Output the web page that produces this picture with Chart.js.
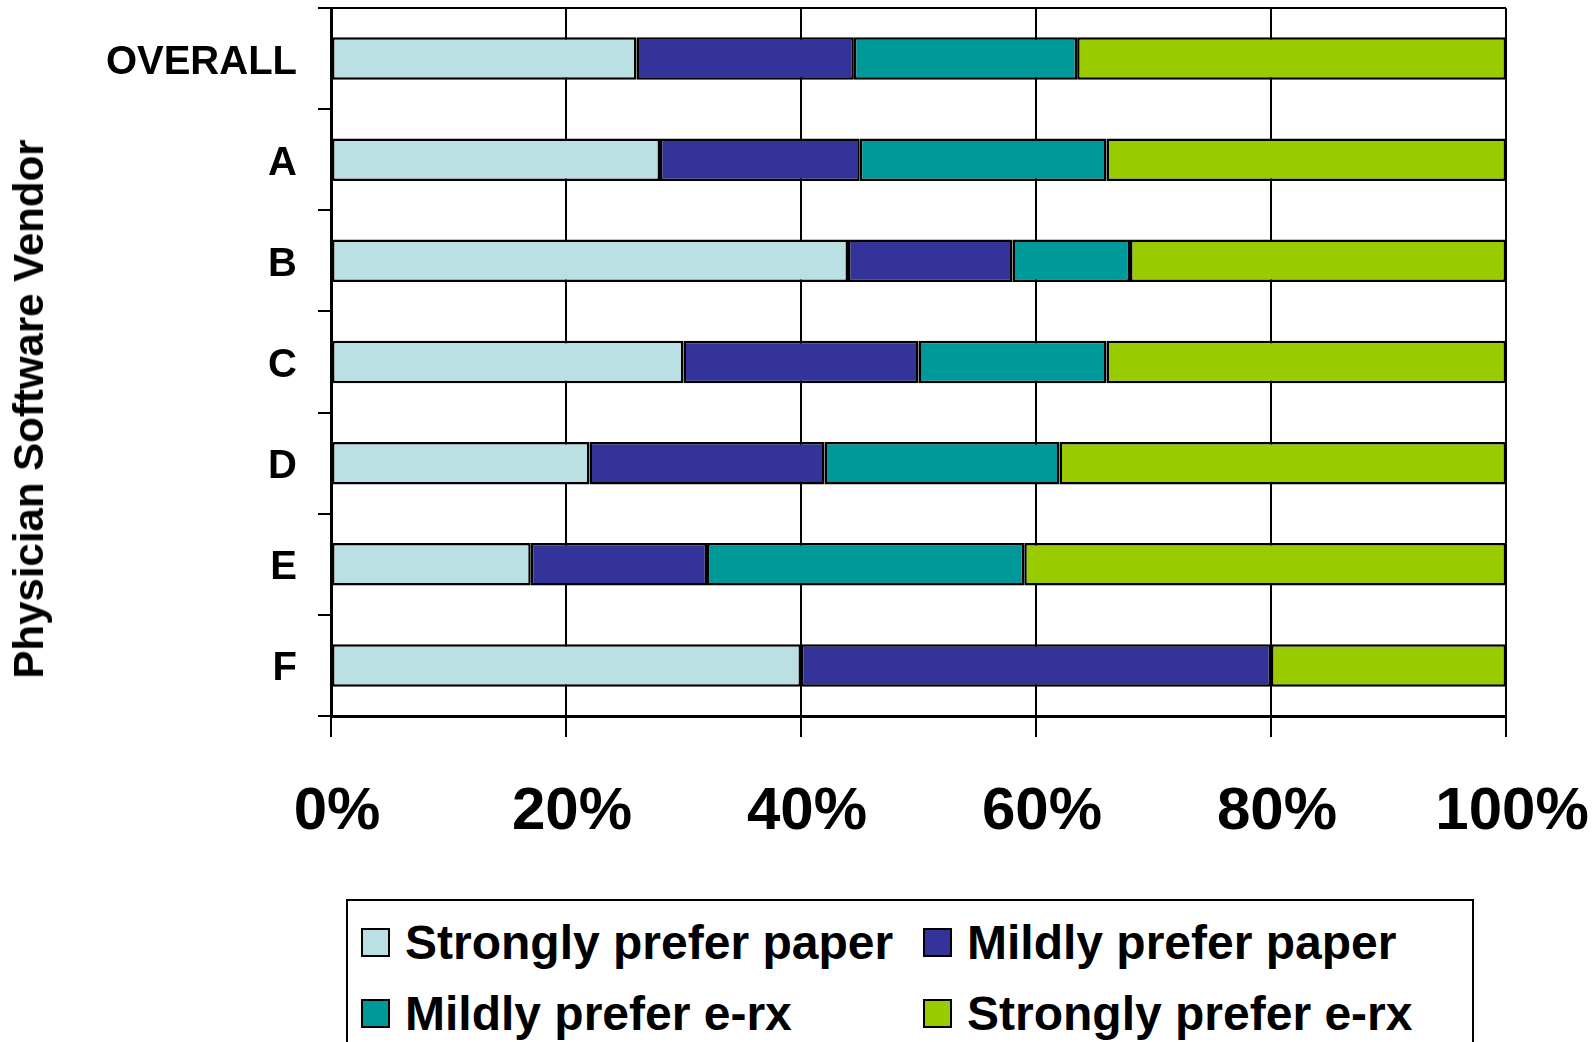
<!DOCTYPE html>
<html>
<head>
<meta charset="utf-8">
<script src="https://cdn.jsdelivr.net/npm/chart.js@4.4.1/dist/chart.umd.min.js"></script>
<style>
    body { margin: 0; background: #fff; font-family: "Liberation Sans", Arial, sans-serif; }
    #wrap { position: relative; width: 1596px; height: 1042px; overflow: hidden; }
    #axis-title {
        position: absolute; left: 29px; top: 409px;
        transform: translate(-50%, -50%) rotate(-90deg);
        font-weight: bold; font-size: 42px; white-space: nowrap; color: #000;
    }
    #legend {
        position: absolute; left: 346px; top: 899px; width: 1124px; height: 200px;
        border: 2px solid #000; background: #fff;
    }
    .item { position: absolute; display: flex; align-items: center; font-weight: bold; font-size: 48px; color: #000; height: 50px; }
    .box { width: 25px; height: 25px; border: 2px solid #000; margin-right: 15px; }
</style>
</head>
<body>
<div id="wrap">
    <canvas id="chart" width="1596" height="1042"></canvas>
    <div id="axis-title">Physician Software Vendor</div>
    <div id="legend"></div>
</div>
<script>
// カテゴリ
const vendors = ['OVERALL', 'A', 'B', 'C', 'D', 'E', 'F'];

// 系列の値 (%)
const stronglyPaper = [26, 28, 44, 30, 22, 17, 40];
const mildlyPaper = [18.5, 17, 14, 20, 20, 15, 40];
const mildlyErx = [19, 21, 10, 16, 20, 27, 0];
const stronglyErx = [36.5, 34, 32, 34, 38, 41, 20];

const seriesNames = ['Strongly prefer paper', 'Mildly prefer paper', 'Mildly prefer e-rx', 'Strongly prefer e-rx'];
const seriesColors = ['#BBE0E3', '#333399', '#009999', '#99CC00'];

// 目盛り
const xTicks = [0, 20, 40, 60, 80, 100];

function makeDataset(i, values) {
    return {
        label: seriesNames[i],
        data: values,
        backgroundColor: seriesColors[i],
        borderColor: '#000',
        borderWidth: 2.5,
        borderSkipped: false,
        categoryPercentage: 1,
        barPercentage: 0.42
    };
}

// 軸の余白を固定する
function noPadding(scale) {
    scale.paddingTop = 0;
    scale.paddingBottom = 0;
    scale.paddingLeft = 0;
    scale.paddingRight = 0;
}

const data = {
    labels: vendors,
    datasets: [
        makeDataset(0, stronglyPaper),
        makeDataset(1, mildlyPaper),
        makeDataset(2, mildlyErx),
        makeDataset(3, stronglyErx)
    ]
};

const options = {
    responsive: false,
    animation: false,
    devicePixelRatio: 1,
    indexAxis: 'y',
    layout: { padding: { top: 8, right: 90, left: 0, bottom: 0 } },
    plugins: {
        legend: { display: false },
        tooltip: { enabled: false }
    },
    scales: {
        x: {
            stacked: true,
            min: 0,
            max: 100,
            afterBuildTicks: scale => { scale.ticks = xTicks.map(v => ({ value: v })); },
            afterFit: scale => { scale.height = 326; noPadding(scale); },
            ticks: {
                color: '#000',
                padding: 39,
                labelOffset: 6,
                font: { family: 'Liberation Sans', weight: 'bold', size: 60 },
                callback: v => v + '%'
            },
            grid: { color: '#000', lineWidth: 2, tickColor: '#000', tickLength: 21 },
            border: { color: '#000', width: 3 }
        },
        y: {
            stacked: true,
            afterFit: scale => { scale.width = 331; noPadding(scale); },
            ticks: {
                color: '#000',
                padding: 21,
                labelOffset: 4,
                font: { family: 'Liberation Sans', weight: 'bold', size: 40 }
            },
            grid: {
                offset: true,
                drawOnChartArea: true,
                color: ctx => ctx.index === 0 ? '#000' : 'rgba(0,0,0,0)',
                tickColor: '#000',
                lineWidth: 2,
                tickLength: 13
            },
            border: { color: '#000', width: 3 }
        }
    }
};

const chart = new Chart(document.getElementById('chart').getContext('2d'), {
    type: 'bar',
    data: data,
    options: options
});

// 凡例 (2列)
const legendEl = document.getElementById('legend');
const colX = [13, 575];
const rowY = [16, 87];
chart.data.datasets.forEach((ds, i) => {
    const item = document.createElement('div');
    item.className = 'item';
    item.style.left = colX[i % 2] + 'px';
    item.style.top = rowY[Math.floor(i / 2)] + 'px';
    const box = document.createElement('span');
    box.className = 'box';
    box.style.background = ds.backgroundColor;
    item.appendChild(box);
    item.appendChild(document.createTextNode(ds.label));
    legendEl.appendChild(item);
});
</script>
</body>
</html>
